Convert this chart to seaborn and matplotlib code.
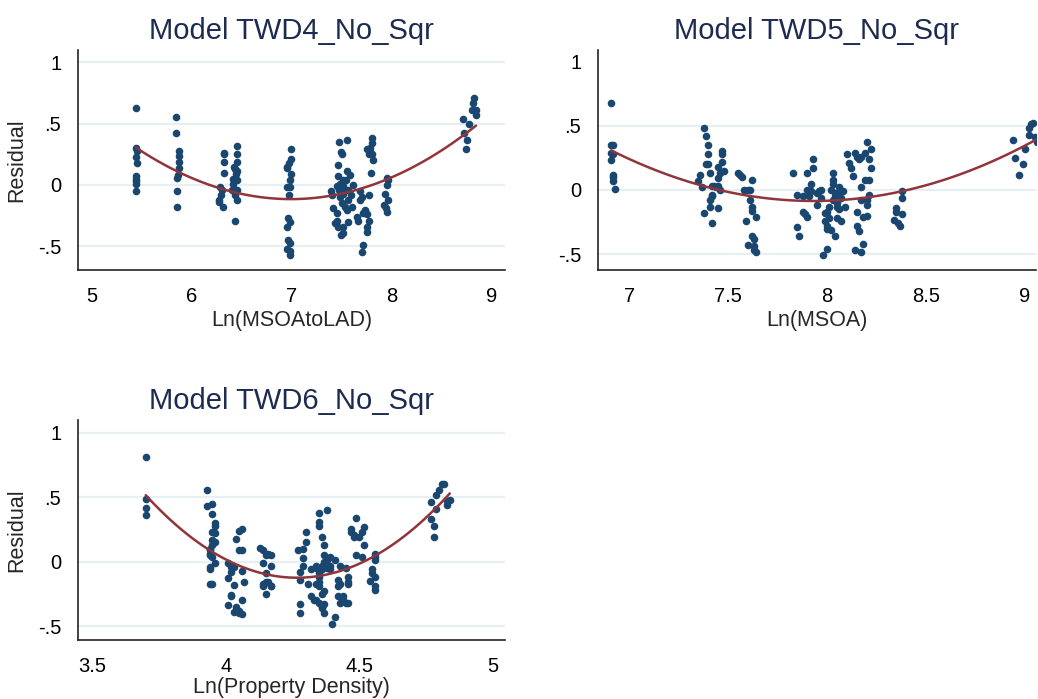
import numpy as np
import pandas as pd
import matplotlib
matplotlib.use("Agg")
import matplotlib.pyplot as plt
import seaborn as sns

# ---------------- data ----------------
twd4_x = [5.44, 5.44, 5.45, 5.44, 5.45, 5.44, 5.44, 5.44, 5.44, 5.44,
          5.84, 5.84, 5.87, 5.87, 5.87, 5.87, 5.86, 5.85, 5.85, 5.85,
          6.32, 6.32, 6.32, 6.32, 6.28, 6.30, 6.27, 6.27, 6.31, 6.29,
          6.45, 6.45, 6.45, 6.42, 6.43, 6.45, 6.44, 6.41, 6.45, 6.41, 6.42, 6.45, 6.43, 6.45, 6.43, 6.40,
          6.99, 6.99, 6.97, 6.95, 6.99, 6.98, 6.95, 6.98, 6.97, 6.96, 6.98, 6.95, 6.96, 6.98, 6.95, 6.98, 6.98, 6.95,
          7.39, 7.40, 7.41, 7.43, 7.45, 7.46, 7.47, 7.49, 7.50, 7.46, 7.48, 7.51, 7.53, 7.55, 7.55, 7.58,
          7.56, 7.59, 7.60, 7.61, 7.49, 7.51, 7.45, 7.46, 7.51, 7.56, 7.65, 7.66, 7.68, 7.70, 7.71, 7.73,
          7.48, 7.50, 7.53, 7.55, 7.51, 7.47, 7.45, 7.56, 7.68, 7.54, 7.51,
          7.80, 7.80, 7.75, 7.78, 7.80, 7.77, 7.81, 7.79, 7.77, 7.73, 7.75, 7.77, 7.75, 7.75, 7.71, 7.70, 7.78,
          7.95, 7.96, 7.95, 7.93, 7.96, 7.92, 7.94, 7.95,
          8.82, 8.81, 8.80, 8.84, 8.84, 8.71, 8.77, 8.72, 8.75, 8.74]
twd4_y = [0.63, 0.30, 0.28, 0.23, 0.18, 0.07, 0.05, 0.03, 0.01, -0.05,
          0.55, 0.42, 0.28, 0.24, 0.19, 0.14, 0.08, 0.06, -0.05, -0.18,
          0.26, 0.25, 0.19, 0.10, -0.02, -0.04, -0.12, -0.14, -0.18, -0.08,
          0.32, 0.25, 0.19, 0.15, 0.13, 0.11, 0.09, 0.05, 0.04, 0.01, -0.03, -0.04, -0.08, -0.12, -0.29, -0.04,
          0.29, 0.21, 0.18, 0.15, 0.09, 0.04, -0.02, -0.02, -0.08, -0.27, -0.30, -0.34, -0.45, -0.47, -0.52, -0.54, -0.57, 0.14,
          -0.05, -0.08, -0.19, -0.31, -0.23, 0.16, 0.35, 0.27, 0.25, 0.07, 0.01, 0.04, -0.04, 0.37, 0.11, 0.08,
          -0.12, -0.08, -0.18, 0.00, -0.41, -0.39, -0.29, -0.34, -0.34, -0.30, -0.26, -0.29, -0.12, -0.10, -0.23, -0.20,
          -0.10, -0.15, -0.18, -0.20, -0.07, -0.04, -0.01, -0.04, -0.05, 0.04, -0.01,
          0.38, 0.34, 0.29, 0.27, 0.25, 0.25, 0.20, 0.10, -0.08, -0.21, -0.24, -0.29, -0.34, -0.38, -0.49, -0.55, 0.30,
          0.06, 0.04, 0.00, -0.07, -0.12, -0.16, -0.19, -0.22,
          0.71, 0.67, 0.61, 0.61, 0.57, 0.54, 0.50, 0.42, 0.37, 0.29]

twd5_x = [6.91, 6.91, 6.92, 6.91, 6.91, 6.92, 6.92, 6.92, 6.93, 6.92,
          7.35, 7.36, 7.37, 7.38, 7.38, 7.39, 7.40, 7.40, 7.39, 7.40, 7.41, 7.41, 7.41, 7.42, 7.42,
          7.43, 7.44, 7.45, 7.45, 7.45, 7.45, 7.46, 7.46, 7.47, 7.47, 7.47, 7.48, 7.42, 7.42,
          7.55, 7.56, 7.57, 7.58, 7.59, 7.60, 7.60, 7.61, 7.61, 7.62, 7.62, 7.62, 7.62, 7.63, 7.63, 7.63, 7.64, 7.64,
          7.83, 7.85, 7.85, 7.86, 7.88, 7.88, 7.89, 7.90, 7.90, 7.90, 7.91, 7.92, 7.92, 7.93, 7.93, 7.95,
          7.95, 7.96, 7.97, 7.97, 7.98, 7.99, 7.99, 8.00, 8.00, 8.00, 8.01, 8.01, 8.02, 8.03, 8.03, 8.03,
          8.04, 8.04, 8.05, 8.05, 8.06, 8.06, 8.06, 8.07, 8.07, 8.08, 8.09, 8.04, 8.02, 8.00, 8.03, 8.05,
          8.10, 8.11, 8.12, 8.13, 8.14, 8.15, 8.15, 8.15, 8.16, 8.16, 8.17, 8.17, 8.17, 8.18, 8.18, 8.19,
          8.19, 8.20, 8.20, 8.20, 8.21, 8.21, 8.22, 8.22, 8.21, 8.20, 8.14, 8.17,
          8.34, 8.35, 8.35, 8.36, 8.37, 8.38, 8.38, 8.38,
          8.94, 8.95, 8.97, 8.99, 9.00, 9.02, 9.02, 9.03, 9.04, 9.05, 9.06]
twd5_y = [0.68, 0.35, 0.35, 0.29, 0.23, 0.12, 0.10, 0.07, 0.01, 0.28,
          0.07, 0.12, 0.02, -0.18, 0.48, 0.42, 0.35, 0.28, 0.20, 0.20, 0.13, -0.08, -0.13, -0.26, -0.04,
          0.03, 0.02, 0.03, -0.14, 0.18, 0.09, 0.13, 0.00, 0.22, 0.30, 0.28, 0.15, 0.03, -0.05,
          0.13, 0.12, 0.10, 0.00, -0.24, 0.00, -0.43, -0.08, 0.00, 0.08, -0.13, -0.16, -0.36, -0.47, -0.38, -0.44, -0.48, -0.21,
          0.13, -0.04, -0.29, -0.36, -0.17, -0.05, -0.19, 0.00, -0.21, 0.13, -0.05, 0.05, -0.01, 0.24, 0.17, -0.12,
          -0.02, -0.01, -0.06, 0.00, -0.51, -0.18, -0.24, -0.46, -0.28, -0.30, -0.13, -0.22, 0.00, 0.13, 0.05, 0.08,
          -0.02, -0.05, -0.22, -0.10, -0.15, 0.02, -0.02, -0.06, -0.24, -0.01, -0.13, -0.36, -0.31, -0.17, -0.08, -0.13,
          0.28, 0.21, 0.17, 0.11, 0.29, -0.17, 0.26, -0.28, -0.32, 0.24, 0.02, -0.08, 0.26, -0.21, -0.42, 0.08,
          0.29, -0.20, 0.37, -0.08, 0.24, 0.08, 0.32, 0.17, -0.04, -0.12, -0.47, -0.48,
          -0.23, -0.14, -0.17, -0.26, -0.28, -0.01, -0.06, -0.19,
          0.39, 0.25, 0.12, 0.20, 0.32, 0.43, 0.48, 0.51, 0.52, 0.41, 0.37]

twd6_x = [3.70, 3.70, 3.70, 3.70,
          3.93, 3.93, 3.94, 3.94, 3.94, 3.95, 3.95, 3.95, 3.96, 3.96, 3.95, 3.96, 3.95, 3.96, 3.95, 3.94,
          3.94, 3.95, 3.96, 3.94, 3.94,
          4.01, 4.02, 4.01, 4.02, 4.02, 4.03, 4.03, 4.01, 4.03, 4.04, 4.05, 4.05, 4.06, 4.06, 4.07, 4.04,
          4.05, 4.06, 4.05, 4.06, 4.06, 4.02,
          4.13, 4.14, 4.14, 4.15, 4.15, 4.16, 4.16, 4.17, 4.17, 4.14, 4.15, 4.15, 4.17, 4.17, 4.14,
          4.27, 4.28, 4.28, 4.28, 4.28, 4.29, 4.29, 4.29, 4.30, 4.30, 4.31, 4.32, 4.32, 4.33,
          4.35, 4.38, 4.35, 4.35, 4.36, 4.37, 4.34, 4.34, 4.35, 4.35, 4.35, 4.36, 4.36, 4.37, 4.37, 4.38,
          4.38, 4.39, 4.39, 4.39, 4.36, 4.37, 4.34, 4.35, 4.36, 4.36, 4.37, 4.37, 4.40, 4.41, 4.41, 4.42,
          4.42, 4.42, 4.43, 4.43, 4.43, 4.44, 4.44, 4.45, 4.45, 4.46, 4.46, 4.46, 4.34, 4.35,
          4.46, 4.47, 4.47, 4.48, 4.48, 4.49, 4.49, 4.50, 4.51, 4.51, 4.52, 4.52,
          4.54, 4.55, 4.55, 4.56, 4.56, 4.56, 4.56, 4.56, 4.56,
          4.77, 4.77, 4.78, 4.78, 4.79, 4.79, 4.80, 4.81, 4.82, 4.83, 4.83, 4.84]
twd6_y = [0.81, 0.49, 0.42, 0.36,
          0.56, 0.43, 0.09, -0.04, -0.17, -0.17, 0.45, 0.37, 0.30, 0.28, 0.23, 0.22, 0.17, 0.15, 0.13, 0.10,
          0.06, 0.04, -0.01, -0.06, 0.05,
          -0.01, -0.08, -0.13, -0.26, -0.27, -0.04, -0.18, -0.34, -0.39, -0.35, -0.40, -0.38, -0.41, -0.30, -0.16, 0.18,
          0.24, 0.25, 0.09, 0.09, -0.07, -0.04,
          0.11, 0.09, -0.01, 0.05, -0.09, -0.16, 0.06, 0.05, -0.03, -0.19, -0.25, -0.16, -0.19, -0.19, -0.17,
          0.09, -0.33, -0.40, -0.08, -0.14, -0.03, 0.10, 0.03, 0.23, 0.15, -0.17, -0.06, -0.27, -0.30,
          0.38, 0.40, 0.31, 0.28, 0.19, 0.13, -0.05, -0.03, -0.16, -0.19, -0.09, -0.06, -0.03, 0.00, 0.05, 0.01,
          -0.05, -0.03, 0.04, -0.06, -0.25, -0.23, -0.30, -0.32, -0.35, -0.36, -0.40, -0.33, -0.48, -0.43, 0.01, -0.14,
          -0.19, -0.27, -0.17, -0.32, -0.03, -0.27, -0.30, -0.05, -0.32, -0.32, -0.12, -0.16, -0.17, -0.12,
          -0.17, 0.25, 0.23, 0.21, 0.19, 0.05, 0.34, 0.19, 0.23, 0.04, 0.13, 0.27,
          -0.15, -0.09, -0.06, -0.12, -0.19, -0.22, 0.01, 0.06, 0.04,
          0.46, 0.33, 0.19, 0.28, 0.41, 0.52, 0.56, 0.60, 0.60, 0.44, 0.47, 0.48]

titles = ["Model TWD4_No_Sqr", "Model TWD5_No_Sqr", "Model TWD6_No_Sqr"]
xlabels = ["Ln(MSOAtoLAD)", "Ln(MSOA)", "Ln(Property Density)"]
ylabels = ["Residual", "", "Residual"]
xticks = [[5, 6, 7, 8, 9], [7, 7.5, 8, 8.5, 9], [3.5, 4, 4.5, 5]]
xticklabels = [["5", "6", "7", "8", "9"], ["7", "7.5", "8", "8.5", "9"], ["3.5", "4", "4.5", "5"]]
yticks = [1, 0.5, 0, -0.5]
yticklabels = ["1", ".5", "0", "-.5"]

# ---------------- style ----------------
sns.set_style("white")
plt.rcParams['font.family'] = ['Liberation Sans', 'DejaVu Sans']

NAVY = "#1A476F"
MAROON = "#90353B"
TITLE_C = "#1C2B50"
GRID_C = "#E8EFF2"

W, H = 1038, 699
fig = plt.figure(figsize=(W / 100, H / 100), dpi=100)
fig.patch.set_facecolor("white")


def box(l, t, r, b):
    return [l / W, 1 - b / H, (r - l) / W, (b - t) / H]


boxes = [box(78, 50, 505, 270), box(598, 50, 1036, 270), box(78, 420, 505, 640)]
xlims = [(4.86, 9.13), (6.843, 9.056), (3.446, 5.047)]
ylims = [(-0.693, 1.10), (-0.623, 1.09), (-0.608, 1.10)]
grids = [[1, 0.5, 0, -0.5], [0.5, 0, -0.5], [1, 0.5, 0, -0.5]]
xlabelpads = [3, 3, 1]
datasets = [(twd4_x, twd4_y), (twd5_x, twd5_y), (twd6_x, twd6_y)]

for i, (xs, ys) in enumerate(datasets):
    ax = fig.add_axes(boxes[i])
    ax.set_facecolor("white")
    df = pd.DataFrame({"x": xs, "y": ys})
    for g in grids[i]:
        ax.axhline(g, color=GRID_C, lw=1.6, zorder=0)
    sns.regplot(data=df, x="x", y="y", order=2, ci=None, ax=ax,
                scatter_kws=dict(s=30, color=NAVY, linewidths=0, alpha=1, zorder=2),
                line_kws=dict(color=MAROON, lw=1.8, zorder=3))
    ax.set_xlim(*xlims[i])
    ax.set_ylim(*ylims[i])
    ax.set_xticks(xticks[i])
    ax.set_xticklabels(xticklabels[i])
    ax.set_yticks(yticks)
    ax.set_yticklabels(yticklabels)
    ax.tick_params(direction="out", length=7, width=1.1, color="#222222",
                   labelsize=14.5, pad=5, labelcolor="black")
    for s in ["top", "right"]:
        ax.spines[s].set_visible(False)
    for s in ["left", "bottom"]:
        ax.spines[s].set_color("#222222")
        ax.spines[s].set_linewidth(1.2)
    ax.set_xlabel(xlabels[i], fontsize=15.5, labelpad=xlabelpads[i])
    ax.set_ylabel(ylabels[i], fontsize=15.5, labelpad=8)
    ax.set_title(titles[i], fontsize=21, color=TITLE_C, pad=8)

fig.savefig("out.png", dpi=100, facecolor="white")
